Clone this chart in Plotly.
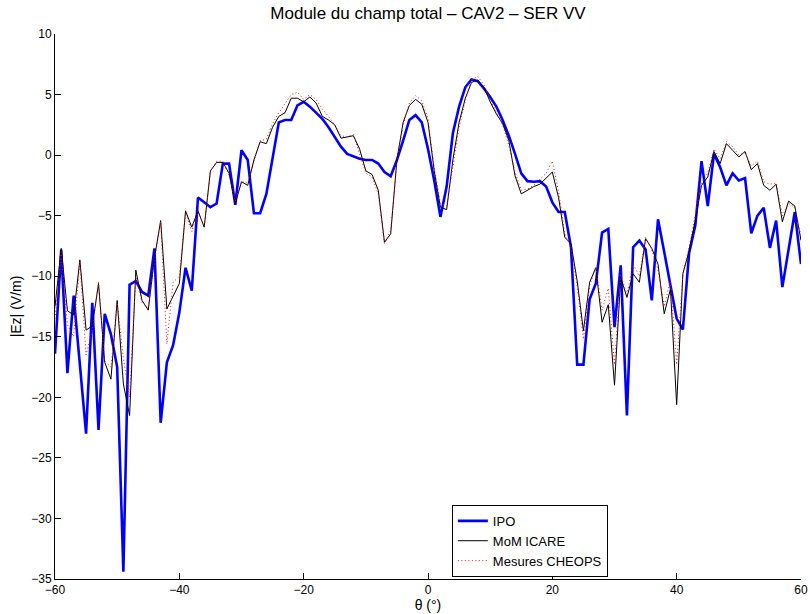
import plotly.graph_objects as go

theta = list(range(-60, 61))

ipo = [-16.4, -7.8, -18.0, -11.6, -17.3, -23.0, -12.2, -22.7, -13.1, -14.8,
       -17.5, -34.4, -10.7, -10.4, -11.3, -11.6, -7.7, -22.1, -17.1, -15.7,
       -13.0, -9.3, -11.2, -3.5, -3.9, -4.3, -4.0, -0.7, -0.7, -4.1,
       0.4, -0.4, -4.8, -4.8, -3.2, -0.3, 2.7, 2.9, 2.9, 4.1,
       4.4, 4.0, 3.5, 3.0, 2.3, 1.5, 0.7, 0.1, -0.1, -0.3,
       -0.4, -0.4, -0.7, -1.4, -1.75, -0.4, 1.2, 2.9, 3.3, 2.7,
       0.5, -2.1, -5.1, -2.6, 1.8, 4.0, 5.6, 6.25, 6.1, 5.5,
       4.8, 4.0, 2.9, 1.6, 0.1, -1.5, -2.15, -2.2, -2.15, -2.6,
       -3.9, -4.7, -4.7, -7.6, -17.3, -17.3, -11.9, -10.6, -6.4, -6.1,
       -14.2, -9.1, -21.5, -7.6, -7.05, -7.8, -12.0, -5.3, -8.0, -10.6,
       -13.5, -14.4, -8.1, -5.8, -0.5, -4.2, 0.1, -1.0, -2.5, -1.5,
       -2.1, -1.9, -6.45, -5.0, -4.35, -7.66, -5.4, -10.9, -7.6, -4.7,
       -9.0]

mom = [-12.5, -7.7, -12.85, -13.2, -8.65, -14.45, -14.1, -10.6, -17.1, -18.5,
       -12.0, -18.9, -21.5, -9.5, -12.0, -12.8, -8.5, -5.4, -12.7, -11.7,
       -10.6, -4.6, -5.95, -4.6, -5.95, -1.3, -0.6, -0.6, -1.5, -4.0,
       -2.2, -2.5, -0.4, 1.1, 0.95, 2.3, 3.2, 3.5, 4.7, 4.7,
       4.4, 4.8, 4.3, 3.2, 2.9, 2.5, 1.4, 1.5, 1.6, 0.5,
       -1.3, -1.6, -2.9, -7.2, -6.5, -0.4, 2.7, 4.1, 4.6, 4.2,
       2.7, -1.3, -4.3, -4.5, -0.4, 2.7, 4.7, 6.0, 6.2, 5.6,
       4.4, 3.4, 2.6, 1.2, -1.7, -3.2, -2.9, -2.6, -2.4, -1.9,
       -1.4, -3.5, -6.8, -7.3, -10.4, -14.5, -10.5, -9.3, -13.8, -12.35,
       -19.0, -10.1, -11.75, -9.8, -10.5, -6.9, -7.7, -9.0, -13.1, -11.05,
       -20.6, -9.8, -7.9, -5.4, -2.5, -1.8, 0.3, -0.7, 0.95, 0.4,
       -0.15, 0.3, -1.2, -0.7, -2.5, -2.9, -2.4, -5.5, -3.8, -4.2,
       -7.05]

cheops = [-13.5, -8.0, -14.0, -15.0, -8.8, -16.5, -14.5, -10.5, -17.0, -17.5,
          -12.2, -16.8, -20.0, -10.0, -12.2, -12.6, -8.7, -5.5, -15.6, -10.5,
          -10.0, -4.8, -6.3, -4.6, -6.0, -1.3, -0.5, -0.5, -1.7, -3.8,
          -2.2, -2.3, -0.5, 1.2, 1.3, 2.6, 3.5, 4.2, 5.0, 5.2,
          4.6, 5.0, 4.6, 3.8, 3.2, 2.5, 1.6, 1.5, 1.7, 0.1,
          -1.5, -1.8, -3.2, -7.3, -6.2, -0.6, 2.5, 4.3, 4.9, 4.5,
          3.0, -1.0, -4.0, -4.2, -0.8, 2.3, 4.5, 6.2, 6.5, 5.8,
          4.6, 3.6, 2.5, 0.8, -1.4, -2.9, -2.8, -2.5, -2.0, -1.5,
          -0.5, -3.0, -6.5, -7.6, -10.8, -15.2, -10.8, -9.2, -12.8, -11.0,
          -17.3, -9.9, -11.5, -9.0, -10.0, -6.8, -7.8, -9.5, -12.5, -10.3,
          -17.3, -9.8, -7.6, -5.0, -2.3, -1.5, 0.5, -0.3, 1.1, 0.7,
          0.0, 0.2, -0.9, -0.5, -2.2, -2.4, -2.3, -5.0, -4.0, -4.3,
          -6.7]

fig = go.Figure()
fig.add_trace(go.Scatter(x=theta, y=ipo, mode='lines', name='IPO',
                         line=dict(color='#0000ff', width=2.6)))
fig.add_trace(go.Scatter(x=theta, y=mom, mode='lines', name='MoM ICARE',
                         line=dict(color='black', width=1)))
fig.add_trace(go.Scatter(x=theta, y=cheops, mode='lines', name='Mesures CHEOPS',
                         line=dict(color='#ff0000', width=1, dash='1px,2.5px')))

fig.update_layout(
    width=810, height=614,
    margin=dict(l=55, r=9, t=34, b=35),
    paper_bgcolor='white', plot_bgcolor='white',
    font=dict(family='Liberation Sans, Arial', size=12, color='black'),
    title=dict(text='Module du champ total \u2013 CAV2 \u2013 SER VV',
               x=0.5, xref='paper', y=1 - 13 / 614, yref='container',
               yanchor='middle', font=dict(size=17)),
    showlegend=True,
    legend=dict(x=0.532, y=0.136, xanchor='left', yanchor='top',
                bgcolor='white', bordercolor='black', borderwidth=1,
                font=dict(size=13), tracegroupgap=0),
)
fig.update_xaxes(range=[-60, 60], tickvals=[-60, -40, -20, 0, 20, 40, 60],
                 showgrid=False, zeroline=False, showline=True, automargin=False,
                 linecolor='black', linewidth=1, ticks='inside', ticklen=6,
                 tickcolor='black',
                 title=dict(text='\u03b8 (\u00b0)', standoff=2, font=dict(size=14)))
fig.update_yaxes(range=[-35, 10], dtick=5,
                 showgrid=False, zeroline=False, showline=True, automargin=False,
                 linecolor='black', linewidth=1, ticks='inside', ticklen=6,
                 tickcolor='black',
                 title=dict(text='|Ez| (V/m)', standoff=6, font=dict(size=14)))

fig.write_html('out.html', config={'displayModeBar': False},
               post_script="document.body.style.margin='0';document.body.style.overflow='hidden';")
